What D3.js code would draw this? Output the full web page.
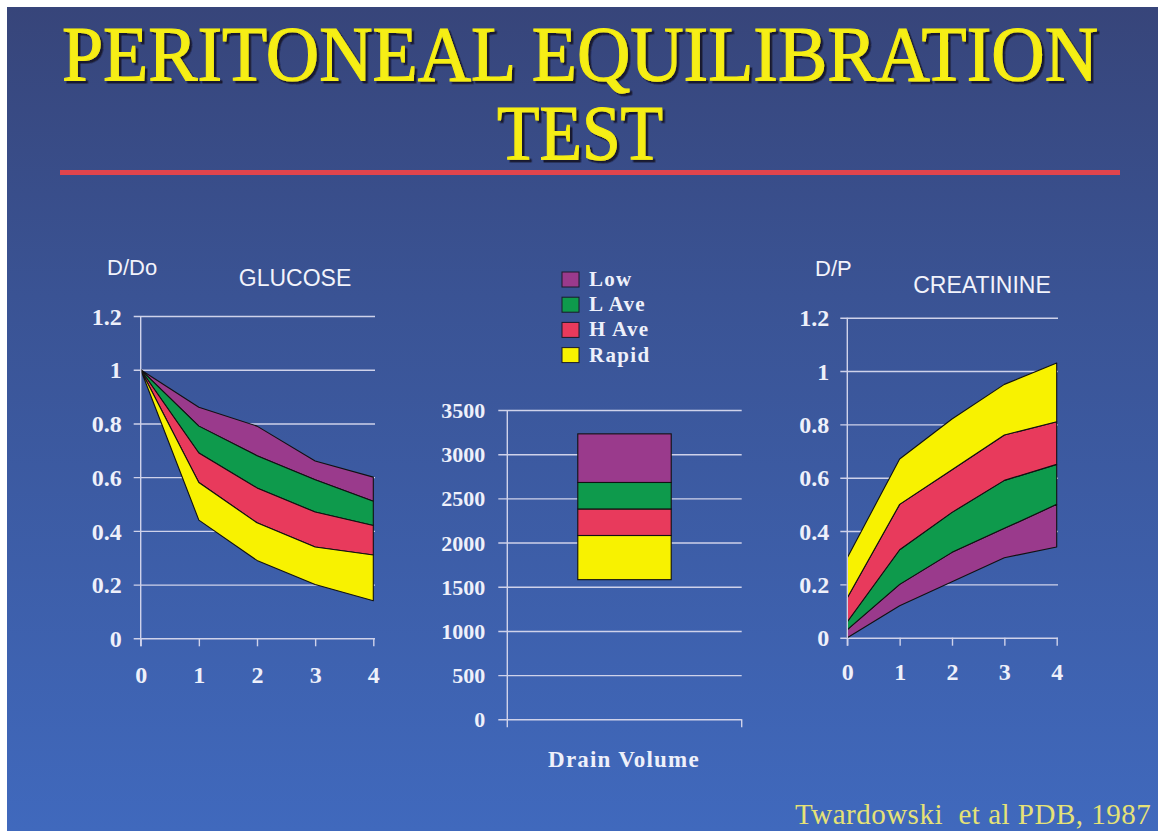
<!DOCTYPE html>
<html>
<head>
<meta charset="utf-8">
<script src="https://cdn.jsdelivr.net/npm/d3@7"></script>
<style>
    body {margin: 0; background: #fff; overflow: hidden}
    .serif {font-family: "Liberation Serif", "DejaVu Serif", "Times New Roman", serif}
    .sans {font-family: "Liberation Sans", Arial, "DejaVu Sans", sans-serif}
    .grid line {stroke: #cfd2ea; stroke-width: 1.4px}
    .grid text {fill: #eef0fa; font-weight: bold}
    .x-axis line {stroke: #cfd2ea; stroke-width: 1.4px}
    .x-axis text {fill: #eef0fa; font-weight: bold}
</style>
</head>
<body>
<div id="chart"></div>
<script>

    // dwell time (hours)
    let hours = [0, 1, 2, 3, 4];
    let groups = ["Low", "L Ave", "H Ave", "Rapid"];
    let colors = ["#9a3a8c", "#0e9a4c", "#e83a5c", "#f8f200"];

    // glucose D/Do, band boundaries from top to bottom
    let glucoseLowTop   = [1.0, 0.86, 0.79, 0.66, 0.60];
    let glucoseLAveTop  = [1.0, 0.79, 0.68, 0.59, 0.51];
    let glucoseHAveTop  = [1.0, 0.69, 0.56, 0.47, 0.42];
    let glucoseRapidTop = [1.0, 0.58, 0.43, 0.34, 0.31];
    let glucoseRapidBot = [1.0, 0.44, 0.29, 0.20, 0.14];

    // creatinine D/P, band boundaries from bottom to top
    let creatLowBot   = [0.00, 0.12, 0.21, 0.30, 0.34];
    let creatLowTop   = [0.03, 0.20, 0.32, 0.41, 0.50];
    let creatLAveTop  = [0.06, 0.33, 0.47, 0.59, 0.65];
    let creatHAveTop  = [0.15, 0.50, 0.63, 0.76, 0.81];
    let creatRapidTop = [0.30, 0.67, 0.82, 0.95, 1.03];

    // drain volume (ml), stacked bounds
    let drainBounds = [1580, 2080, 2380, 2680, 3230];   // Rapid, H Ave, L Ave, Low

    let ratioTicks = [0, 0.2, 0.4, 0.6, 0.8, 1, 1.2];
    let drainTicks = [0, 500, 1000, 1500, 2000, 2500, 3000, 3500];

    let W = 1158, H = 831;

    let svg = d3.select("#chart").append("svg")
        .attr("width", W)
        .attr("height", H);

    let defs = svg.append("defs");
    let grad = defs.append("linearGradient")
        .attr("id", "bg")
        .attr("x1", 0).attr("y1", 0).attr("x2", 0).attr("y2", 1);
    grad.append("stop").attr("offset", "0%").attr("stop-color", "#37457a");
    grad.append("stop").attr("offset", "35%").attr("stop-color", "#3a5394");
    grad.append("stop").attr("offset", "100%").attr("stop-color", "#4069bd");

    let shadow = defs.append("filter").attr("id", "shadow")
        .attr("x", "-5%").attr("y", "-20%").attr("width", "110%").attr("height", "140%");
    shadow.append("feDropShadow")
        .attr("dx", 2.5).attr("dy", 2.5).attr("stdDeviation", 0.6)
        .attr("flood-color", "#12152a").attr("flood-opacity", 0.95);

    svg.append("rect")
        .attr("x", 7).attr("y", 7)
        .attr("width", W - 7).attr("height", H - 7)
        .style("fill", "url(#bg)");

    // title
    let titles = [{t: "PERITONEAL EQUILIBRATION", y: 80, len: 1036}, {t: "TEST", y: 159, len: 166}];
    svg.selectAll(".title")
        .data(titles)
        .enter().append("text")
        .attr("class", "title serif")
        .attr("x", 580).attr("y", function(d) { return d.y; })
        .attr("text-anchor", "middle")
        .attr("textLength", function(d) { return d.len; })
        .attr("lengthAdjust", "spacingAndGlyphs")
        .style("font-size", "78px")
        .style("fill", "#f6ee12")
        .style("stroke", "#f6ee12").style("stroke-width", 1.1)
        .attr("filter", "url(#shadow)")
        .text(function(d) { return d.t; });

    svg.append("rect")
        .attr("x", 60).attr("y", 170)
        .attr("width", 1060).attr("height", 5)
        .style("fill", "#e0444c");

    function lineChart(opt) {
        let x = d3.scaleLinear().domain([0, 4]).range(opt.xr);
        let y = d3.scaleLinear().domain([0, 1.2]).range(opt.yr);
        let g = svg.append("g");

        let gridW = opt.gridRight - opt.xr[0];
        let yAxis = d3.axisLeft(y)
            .tickValues(ratioTicks)
            .tickFormat(d3.format("~g"))
            .tickSize(-gridW)
            .tickPadding(opt.pad);
        let ga = g.append("g")
            .attr("class", "grid serif")
            .attr("transform", "translate(" + opt.xr[0] + ",0)")
            .call(yAxis);
        ga.select(".domain").remove();
        ga.selectAll("line").attr("x1", -7);
        ga.selectAll("text").style("font-size", "24px").attr("dy", "0.34em");

        opt.bands.forEach(function(b) {
            let area = d3.area()
                .x(function(d, i) { return x(hours[i]); })
                .y0(function(d, i) { return y(b.lo[i]); })
                .y1(function(d, i) { return y(b.hi[i]); });
            g.append("path")
                .datum(hours)
                .attr("d", area)
                .style("fill", b.color)
                .style("stroke", "#111")
                .style("stroke-width", 1.1)
                .style("stroke-linejoin", "round");
        });

        g.append("line")
            .attr("x1", opt.xr[0]).attr("x2", opt.xr[0])
            .attr("y1", y(1.2)).attr("y2", y(0) + 8)
            .style("stroke", "#cfd2ea").style("stroke-width", 1.4);

        let xAxis = d3.axisBottom(x)
            .tickValues(hours)
            .tickFormat(d3.format("d"))
            .tickSize(8)
            .tickPadding(opt.xpad);
        let gx = g.append("g")
            .attr("class", "x-axis serif")
            .attr("transform", "translate(0," + y(0) + ")")
            .call(xAxis);
        gx.select(".domain").remove();
        gx.selectAll("text").style("font-size", "24px");

        g.append("text").attr("class", "sans")
            .attr("x", opt.unit.x).attr("y", opt.unit.y)
            .style("font-size", "22px").style("fill", "#f2f3fb")
            .text(opt.unit.t);
        g.append("text").attr("class", "sans")
            .attr("x", opt.name.x).attr("y", opt.name.y)
            .attr("text-anchor", "middle")
            .style("font-size", "23px").style("fill", "#f2f3fb")
            .text(opt.name.t);
    }

    lineChart({
        xr: [140.7, 373.3], yr: [638.3, 316], gridRight: 375, pad: 19, xpad: 20,
        unit: {t: "D/Do", x: 107, y: 275},
        name: {t: "GLUCOSE", x: 295, y: 286},
        bands: [
            {lo: glucoseLAveTop, hi: glucoseLowTop, color: colors[0]},
            {lo: glucoseHAveTop, hi: glucoseLAveTop, color: colors[1]},
            {lo: glucoseRapidTop, hi: glucoseHAveTop, color: colors[2]},
            {lo: glucoseRapidBot, hi: glucoseRapidTop, color: colors[3]}
        ]
    });

    lineChart({
        xr: [847.3, 1056.7], yr: [637.7, 317.7], gridRight: 1058, pad: 18, xpad: 17,
        unit: {t: "D/P", x: 815, y: 276},
        name: {t: "CREATININE", x: 982, y: 293},
        bands: [
            {lo: creatLowBot, hi: creatLowTop, color: colors[0]},
            {lo: creatLowTop, hi: creatLAveTop, color: colors[1]},
            {lo: creatLAveTop, hi: creatHAveTop, color: colors[2]},
            {lo: creatHAveTop, hi: creatRapidTop, color: colors[3]}
        ]
    });

    // drain volume bar
    let xD = d3.scaleBand().domain(["Drain Volume"]).range([507.3, 741.7]).padding(0.43);
    let yD = d3.scaleLinear().domain([0, 3500]).range([719.3, 410]);
    let gD = svg.append("g");

    let yAxisD = d3.axisLeft(yD)
        .tickValues(drainTicks)
        .tickFormat(d3.format("d"))
        .tickSize(-(741.7 - 507.3))
        .tickPadding(22);
    let gda = gD.append("g")
        .attr("class", "grid serif")
        .attr("transform", "translate(507.3,0)")
        .call(yAxisD);
    gda.select(".domain").remove();
    gda.selectAll("line").attr("x1", -9);
    gda.selectAll("text").style("font-size", "22px").attr("dy", "0.34em");

    let stackOrder = ["Rapid", "H Ave", "L Ave", "Low"];
    gD.selectAll(".seg")
        .data(stackOrder)
        .enter().append("rect")
        .attr("x", xD("Drain Volume"))
        .attr("width", xD.bandwidth())
        .attr("y", function(d, i) { return yD(drainBounds[i + 1]); })
        .attr("height", function(d, i) { return yD(drainBounds[i]) - yD(drainBounds[i + 1]); })
        .style("fill", function(d) { return colors[groups.indexOf(d)]; })
        .style("stroke", "#111")
        .style("stroke-width", 1.1);

    xD.range().forEach(function(px) {
        gD.append("line")
            .attr("x1", px).attr("x2", px)
            .attr("y1", px === xD.range()[0] ? yD(3500) : yD(0))
            .attr("y2", yD(0) + 8)
            .style("stroke", "#cfd2ea").style("stroke-width", 1.4);
    });

    gD.append("text").attr("class", "serif")
        .attr("x", 624).attr("y", 767)
        .attr("text-anchor", "middle")
        .style("font-size", "23px").style("font-weight", "bold")
        .style("letter-spacing", "1.2px")
        .style("fill", "#eef0fa")
        .text(xD.domain()[0]);

    // legend
    let legend = svg.append("g").attr("transform", "translate(562,272)");
    let item = legend.selectAll(".item")
        .data(groups)
        .enter().append("g")
        .attr("transform", function(d, i) { return "translate(0," + (i * 25.2) + ")"; });
    item.append("rect")
        .attr("width", 17).attr("height", 15)
        .style("fill", function(d, i) { return colors[i]; })
        .style("stroke", "#1a1a2a").style("stroke-width", 1);
    item.append("text").attr("class", "serif")
        .attr("x", 27).attr("y", 14)
        .style("font-size", "21px").style("font-weight", "bold")
        .style("letter-spacing", "1.3px")
        .style("fill", "#eef0fa")
        .text(function(d) { return d; });

    svg.append("text").attr("class", "serif")
        .attr("x", 795).attr("y", 824)
        .style("font-size", "29px")
        .style("letter-spacing", "0.5px")
        .style("fill", "#e6e276")
        .style("white-space", "pre")
        .text("Twardowski  et al PDB, 1987");

</script>
</body>
</html>
